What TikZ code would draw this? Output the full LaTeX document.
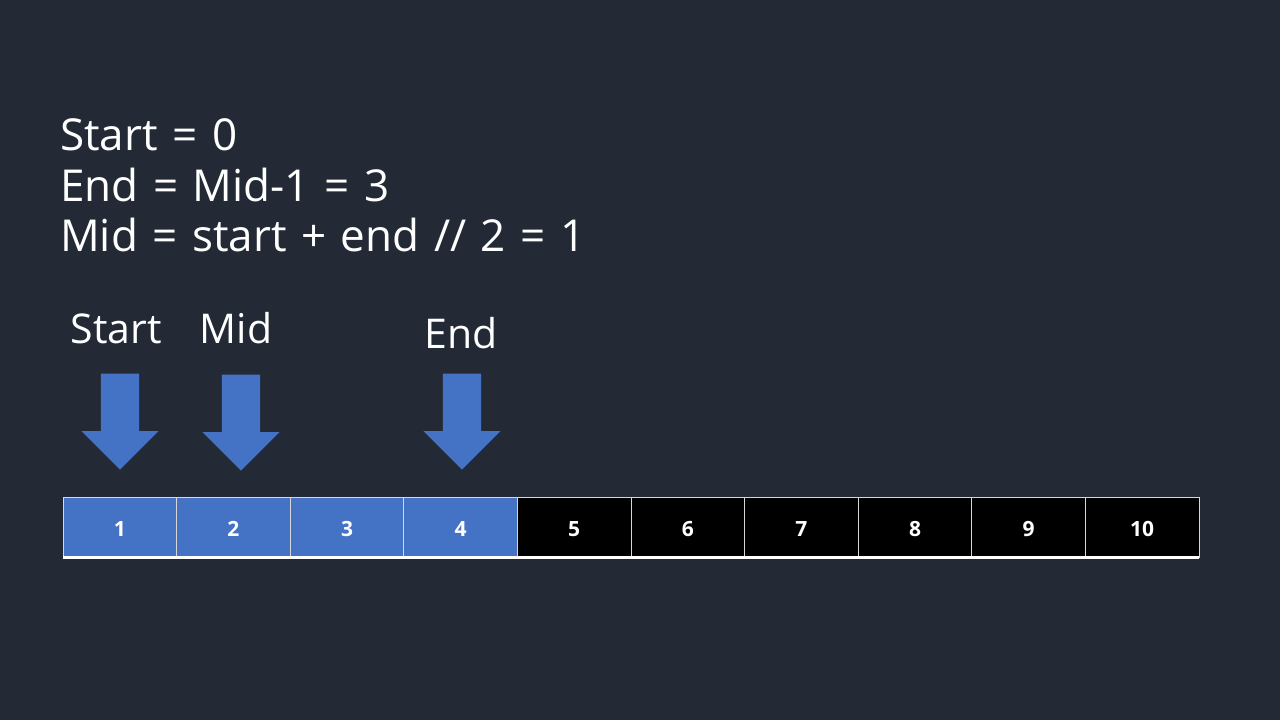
\documentclass[tikz,border=0pt]{standalone}
\usepackage{fontspec}
\setmainfont{Open Sans}[WordSpace=1.27]
\usetikzlibrary{shapes.arrows}
\definecolor{bs_bg}{RGB}{35, 42, 54}
\definecolor{bs_blue}{RGB}{68, 114, 196}
\definecolor{bs_line}{RGB}{215, 215, 215}
\tikzstyle{txt}=[anchor=base west,inner sep=0pt,text=white,
  font=\fontsize{44}{50}\selectfont]
\tikzstyle{lbl}=[anchor=base,inner sep=0pt,text=white,
  font=\fontsize{41}{46}\selectfont]
\tikzstyle{ptr}=[single arrow,shape border rotate=270,fill=bs_blue,
  inner sep=19pt,minimum height=96pt,single arrow head extend=19.5pt,
  single arrow tip angle=90,anchor=tip]
\tikzstyle{bc}=[rectangle,fill=bs_blue,draw=bs_line,line width=0.8pt,
  minimum width=113.6pt,minimum height=60pt,inner sep=0pt,text=white,
  text height=19pt,font=\fontsize{21}{24}\selectfont\bfseries]
\tikzstyle{kc}=[bc,fill=black]

\begin{document}
\begin{tikzpicture}[x=1pt,y=-1pt]
            \fill[bs_bg] (0,0) rectangle (1280,720);
            \useasboundingbox (0,0) rectangle (1280,720);
            \node [style=txt] (0) at (60, 150) {Start = 0};
            \node [style=txt] (1) at (60, 201) {End = Mid-1 = 3};
            \node [style=txt] (2) at (60, 251) {Mid = start + end // 2 = 1};
            \node [style=lbl] (3) at (116, 343) {Start};
            \node [style=lbl] (4) at (236, 343) {Mid};
            \node [style=lbl] (5) at (461, 348) {End};
            \node [style=ptr] (6) at (120, 470) {};
            \node [style=ptr] (7) at (241, 471) {};
            \node [style=ptr] (8) at (462, 470) {};
            \node [style=bc] (10) at (119.8, 527) {1};
            \node [style=bc] (11) at (233.4, 527) {2};
            \node [style=bc] (12) at (347.0, 527) {3};
            \node [style=bc] (13) at (460.6, 527) {4};
            \node [style=kc] (14) at (574.2, 527) {5};
            \node [style=kc] (15) at (687.8, 527) {6};
            \node [style=kc] (16) at (801.4, 527) {7};
            \node [style=kc] (17) at (915.0, 527) {8};
            \node [style=kc] (18) at (1028.6, 527) {9};
            \node [style=kc] (19) at (1142.2, 527) {10};
            \draw [white,line width=2.5pt] (10.south west) to (19.south east);
    \end{tikzpicture}
\end{document}
